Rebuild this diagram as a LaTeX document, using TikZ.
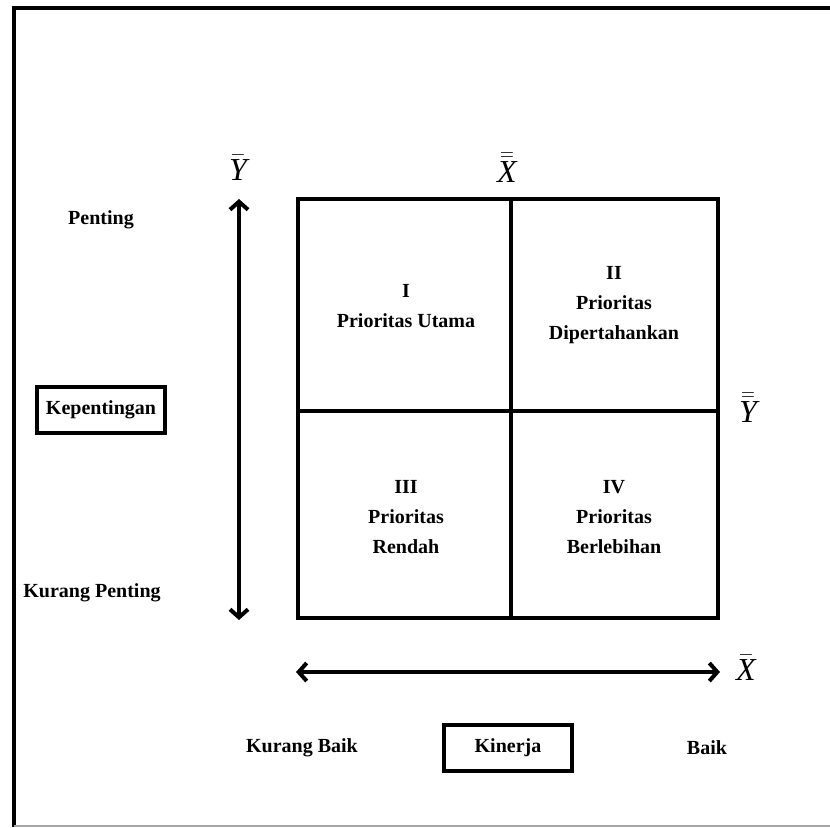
\documentclass[tikz,border=0pt]{standalone}
\usepackage{fontspec}
\setmainfont{Liberation Serif}
\usetikzlibrary{arrows.meta}
\begin{document}
\begin{tikzpicture}[x=0.5pt,y=-0.5pt,
    label/.style={
      % The text:
      font=\bfseries\fontsize{10}{15}\selectfont,align=center},
    labelbox/.style={
      % The shape:
      rectangle,minimum width=64pt,minimum height=23pt,
      % The rest
      line width=2pt,draw=black,
      font=\bfseries\fontsize{10}{12}\selectfont},
    meanlabel/.style={font=\fontsize{16}{18}\selectfont},
    axis/.style={line width=2pt,{Straight Barb[length=4pt,width=9pt,line width=2pt]}-{Straight Barb[length=4pt,width=9pt,line width=2pt]}}]
    \useasboundingbox (0,0) rectangle (830,827);
    % frame
    \draw[line width=2pt] (14,827) -- (14,8) -- (830,8);
    \draw[black!35,line width=1pt] (14,826) -- (830,826);
    % quadrants
    \draw[line width=2pt] (298,199) rectangle (718,618);
    \draw[line width=2pt] (511,199) -- (511,618);
    \draw[line width=2pt] (298,411) -- (718,411);
    \node (q1) [label] at (406,306) {I\\Prioritas Utama};
    \node (q2) [label] at (614,305) {II\\Prioritas\\Dipertahankan};
    \node (q3) [label] at (406,517) {III\\Prioritas\\Rendah};
    \node (q4) [label] at (614,517) {IV\\Prioritas\\Berlebihan};
    % axes
    \coordinate (ytop) at (239,199);
    \coordinate (ybot) at (239,620);
    \coordinate (xleft) at (296,672);
    \coordinate (xright) at (720,672);
    \draw[axis] (ytop) -- (ybot);
    \draw[axis] (xleft) -- (xright);
    \node (ybar)  [meanlabel] at (238,168) {$\bar{\textit{Y}}$};
    \node (xbbar) [meanlabel] at (507,168) {$\bar{\bar{\textit{X}}}$};
    \node (ybbar) [meanlabel] at (748,408) {$\bar{\bar{\textit{Y}}}$};
    \node (xbar)  [meanlabel] at (746,668) {$\bar{\textit{X}}$};
    % axis names
    \node (penting) [label] at (101,220) {Penting};
    \node (kepentingan) [labelbox] at (101,410) {Kepentingan};
    \node (kurangpenting) [label] at (92,593) {Kurang Penting};
    \node (kurangbaik) [label] at (302,748) {Kurang Baik};
    \node (kinerja) [labelbox] at (508,748) {Kinerja};
    \node (baik) [label] at (707,748) {Baik};
  \end{tikzpicture}
\end{document}
